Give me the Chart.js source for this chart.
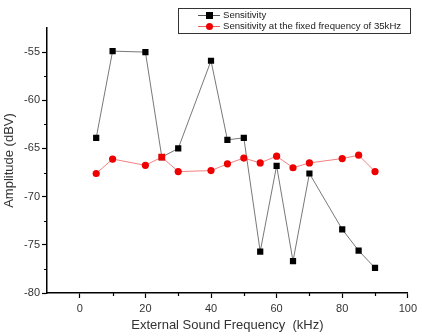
<!DOCTYPE html>
<html>
<head>
<meta charset="utf-8">
<script src="https://cdn.jsdelivr.net/npm/chart.js@4"></script>
<style>
html,body{margin:0;padding:0;background:#fff;}
#wrap{width:421px;height:335px;position:relative;}
</style>
</head>
<body>
<div id="wrap"><canvas id="c" width="421" height="335"></canvas></div>
<script>
const frequencies = [5, 10, 20, 25, 30, 40, 45, 50, 55, 60, 65, 70, 80, 85, 90];
const sensitivity = [-63.9, -54.9, -55.0, -65.9, -65.0, -55.9, -64.1, -63.9, -75.7, -66.8, -76.7, -67.6, -73.4, -75.6, -77.4];
const sensitivityFixed = [-67.6, -66.1, -66.75, -65.9, -67.4, -67.3, -66.6, -66.0, -66.5, -65.8, -67.0, -66.5, -66.05, -65.7, -67.4];
const seriesLabels = ['Sensitivity', 'Sensitivity at the fixed frequency of 35kHz'];
const xTicks = [0, 20, 40, 60, 80, 100];
const xMinorTicks = [10, 30, 50, 70, 90];
const yTicks = [-80, -75, -70, -65, -60, -55];
const yMinorTicks = [-77.5, -72.5, -67.5, -62.5, -57.5];

const FONT = "'Liberation Sans', Arial, sans-serif";

const minorTicks = {
  id: 'minorTicks',
  afterDraw(chart) {
    const ctx = chart.ctx, xs = chart.scales.x, ys = chart.scales.y, a = chart.chartArea;
    ctx.save();
    ctx.strokeStyle = '#000';
    ctx.lineWidth = 1.2;
    ctx.beginPath();
    xMinorTicks.forEach(v => { const p = Math.round(xs.getPixelForValue(v)) + 0.5; ctx.moveTo(p, a.bottom); ctx.lineTo(p, a.bottom + 3); });
    yMinorTicks.forEach(v => { const p = Math.round(ys.getPixelForValue(v)) + 0.5; ctx.moveTo(a.left, p); ctx.lineTo(a.left - 3, p); });
    ctx.stroke();
    ctx.restore();
  }
};

const boxLegend = {
  id: 'boxLegend',
  afterDraw(chart) {
    const ctx = chart.ctx;
    const x0 = 178.5, y0 = 8.5, w = 232, h = 25;
    ctx.save();
    ctx.fillStyle = '#fff';
    ctx.fillRect(x0, y0, w, h);
    ctx.strokeStyle = '#333';
    ctx.lineWidth = 1;
    ctx.strokeRect(x0, y0, w, h);
    ctx.font = '9.6px ' + FONT;
    ctx.textBaseline = 'middle';
    chart.data.datasets.forEach((ds, i) => {
      const yy = 15 + i * 11;
      ctx.strokeStyle = ds.borderColor;
      ctx.lineWidth = 1;
      ctx.beginPath(); ctx.moveTo(198, yy + 0.5); ctx.lineTo(220, yy + 0.5); ctx.stroke();
      ctx.fillStyle = ds.pointBackgroundColor;
      if (i === 0) { ctx.fillRect(206, yy - 3, 7, 7); }
      else { ctx.beginPath(); ctx.arc(209.5, yy + 0.5, 3.5, 0, Math.PI * 2); ctx.fill(); }
      ctx.fillStyle = '#222';
      ctx.fillText(ds.label, 223, yy + 0.5);
    });
    ctx.restore();
  }
};

new Chart(document.getElementById('c'), {
  type: 'line',
  data: {
    datasets: [
      {
        label: seriesLabels[0],
        data: frequencies.map((f, i) => ({ x: f, y: sensitivity[i] })),
        borderColor: '#555',
        borderWidth: 0.8,
        pointStyle: 'rect',
        pointRadius: 4.4,
        pointBackgroundColor: '#000',
        pointBorderColor: '#000',
        pointBorderWidth: 0,
        order: 2
      },
      {
        label: seriesLabels[1],
        data: frequencies.map((f, i) => ({ x: f, y: sensitivityFixed[i] })),
        borderColor: '#f06060',
        borderWidth: 0.8,
        pointStyle: frequencies.map((f, i) => i === 3 ? 'rect' : 'circle'),
        pointRadius: frequencies.map((f, i) => i === 3 ? 4.8 : 3.6),
        pointBackgroundColor: '#ee0000',
        pointBorderColor: '#ee0000',
        pointBorderWidth: 0,
        order: 1
      }
    ]
  },
  options: {
    responsive: false,
    animation: false,
    devicePixelRatio: 1,
    layout: { padding: { top: 28, right: 11, left: 0, bottom: 0 } },
    plugins: { legend: { display: false }, tooltip: { enabled: false } },
    scales: {
      x: {
        type: 'linear',
        min: -10, max: 100,
        afterBuildTicks: s => { s.ticks = xTicks.map(v => ({ value: v })); },
        afterFit: s => { s.height = 42; },
        grid: { drawOnChartArea: false, tickLength: 5, tickColor: '#000', tickWidth: 1.2 },
        border: { color: '#000', width: 1.5 },
        ticks: { color: '#333', font: { family: FONT, size: 11 }, padding: 4, maxRotation: 0, autoSkip: false },
        title: { display: true, text: 'External Sound Frequency  (kHz)', color: '#333', font: { family: FONT, size: 13 }, padding: { top: 2, bottom: 2 } }
      },
      y: {
        type: 'linear',
        min: -80, max: -52.5,
        afterBuildTicks: s => { s.ticks = yTicks.map(v => ({ value: v })); },
        afterFit: s => { s.width = 47; },
        grid: { drawOnChartArea: false, tickLength: 5, tickColor: '#000', tickWidth: 1.2 },
        border: { color: '#000', width: 1.5 },
        ticks: { color: '#333', font: { family: FONT, size: 11 }, padding: 2, autoSkip: false },
        title: { display: true, text: 'Amplitude (dBV)', color: '#333', font: { family: FONT, size: 13 }, padding: { top: 2, bottom: 0 } }
      }
    }
  },
  plugins: [minorTicks, boxLegend]
});
</script>
</body>
</html>
